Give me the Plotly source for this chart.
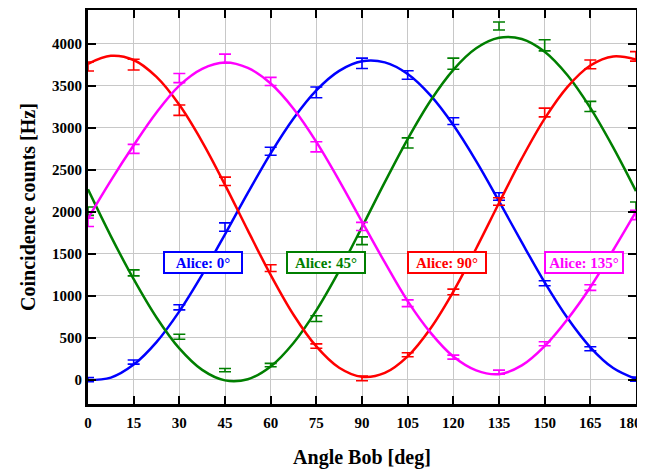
import plotly.graph_objects as go

# Measured data (Bob angle in degrees)
angles = [0, 15, 30, 45, 60, 75, 90, 105, 120, 135, 150, 165, 180]

alice0 = [0, 209, 861, 1816, 2719, 3419, 3765, 3626, 3077, 2180, 1148, 368, 5]
alice0_err = [25, 24, 30, 50, 48, 64, 62, 50, 40, 45, 30, 24, 25]

alice45 = [2005, 1271, 511, 113, 173, 726, 1653, 2818, 3761, 4210, 3980, 3252, 2060]
alice45_err = [50, 36, 30, 20, 20, 34, 46, 60, 66, 48, 66, 60, 55]

alice90 = [3727, 3749, 3208, 2361, 1327, 400, 15, 296, 1044, 2120, 3180, 3753, 3848]
alice90_err = [54, 64, 62, 50, 40, 26, 28, 24, 34, 45, 52, 52, 56]

alice135 = [1873, 2747, 3590, 3821, 3550, 2771, 1824, 909, 268, 89, 427, 1096, 1960]
alice135_err = [50, 54, 54, 54, 48, 60, 48, 40, 24, 24, 24, 34, 55]

# Fitted curves, every 7.5 degrees
fit_angles = [0, 7.5, 15, 22.5, 30, 37.5, 45, 52.5, 60, 67.5, 75, 82.5, 90,
              97.5, 105, 112.5, 120, 127.5, 135, 142.5, 150, 157.5, 165, 172.5, 180]
fit0 = [-5, 24, 179, 447, 813, 1250, 1730, 2222, 2694, 3109, 3444, 3676, 3790,
        3777, 3639, 3384, 3031, 2602, 2124, 1633, 1158, 733, 385, 138, 8]
fit45 = [2265, 1709, 1196, 740, 372, 116, -9, 5, 157, 437, 825, 1295, 1816,
         2351, 2864, 3320, 3688, 3944, 4069, 4055, 3903, 3623, 3235, 2765, 2244]
fit90 = [3760, 3855, 3805, 3603, 3271, 2831, 2319, 1776, 1247, 773, 395, 141, 33,
         80, 277, 609, 1048, 1561, 2102, 2633, 3107, 3485, 3739, 3847, 3810]
fit135 = [1920, 2370, 2790, 3180, 3500, 3700, 3775, 3710, 3525, 3225, 2830, 2370, 1880,
          1395, 935, 560, 275, 110, 65, 170, 400, 720, 1100, 1540, 2000]

labels = ["Alice: 0°", "Alice: 45°", "Alice: 90°", "Alice: 135°"]
label_x = [37.9, 78.2, 118.0, 162.8]
label_y = [1400, 1400, 1400, 1400]
colors = ["#0000ff", "#007f00", "#ff0000", "#ff00ff"]

x_ticks = list(range(0, 181, 15))
y_ticks = list(range(0, 4001, 500))

FONT = "Liberation Serif"

fig = go.Figure()
series = [(fit0, alice0, alice0_err), (fit45, alice45, alice45_err),
          (fit90, alice90, alice90_err), (fit135, alice135, alice135_err)]
for (fit, pts, err), col in zip(series, colors):
    fig.add_trace(go.Scatter(x=fit_angles, y=fit, mode="lines",
                             line=dict(color=col, width=2.5, shape="spline", smoothing=1.0),
                             showlegend=False, hoverinfo="skip"))
    fig.add_trace(go.Scatter(x=angles, y=pts, mode="markers",
                             marker=dict(color=col, size=1, opacity=0),
                             error_y=dict(type="data", array=err, visible=True,
                                          color=col, thickness=1.6, width=6),
                             showlegend=False))

for t, lx, ly, col in zip(labels, label_x, label_y, colors):
    fig.add_annotation(x=lx, y=ly, text="<b>%s</b>" % t, showarrow=False,
                       font=dict(family=FONT, size=15, color=col),
                       bordercolor=col, borderwidth=2, borderpad=0,
                       width=76, height=19,
                       bgcolor="white", xanchor="center", yanchor="middle")

axis_common = dict(showline=True, linecolor="black", linewidth=3, mirror="ticks",
                   ticks="inside", ticklen=8, tickwidth=2, tickcolor="black",
                   showgrid=True, gridcolor="#c8c8c8", gridwidth=1, zeroline=False,
                   automargin=False, ticklabeloverflow="allow",
                   tickfont=dict(family=FONT, size=15, color="black"))

# last x label sits at the window edge; draw it as text nudged inside the page
x_ticktext = ["<b>%d</b>" % v for v in x_ticks[:-1]] + [""]
fig.add_annotation(x=x_ticks[-1], xref="x", y=0, yref="paper",
                   text="<b>%d</b>" % x_ticks[-1], showarrow=False,
                   font=dict(family=FONT, size=15, color="black"),
                   xanchor="right", yanchor="middle", xshift=8, yshift=-19)

fig.update_xaxes(range=[0, 180], tickvals=x_ticks, ticktext=x_ticktext,
                 ticklabelstandoff=3,
                 title=dict(text="<b>Angle Bob [deg]</b>", standoff=20,
                            font=dict(family=FONT, size=20, color="black")),
                 **axis_common)
fig.update_yaxes(range=[-290, 4400], tickvals=y_ticks,
                 ticktext=["<b>%d</b>" % v for v in y_ticks],
                 title=dict(text="<b>Coincidence counts [Hz]</b>", standoff=12,
                            font=dict(family=FONT, size=20, color="black")),
                 **axis_common)

# the page body adds an 8px margin, so the figure is sized to end at the window edge
fig.update_layout(width=637, height=463, plot_bgcolor="white", paper_bgcolor="white",
                  margin=dict(l=80, r=9, t=2, b=67), showlegend=False)

fig.write_html("out.html")
